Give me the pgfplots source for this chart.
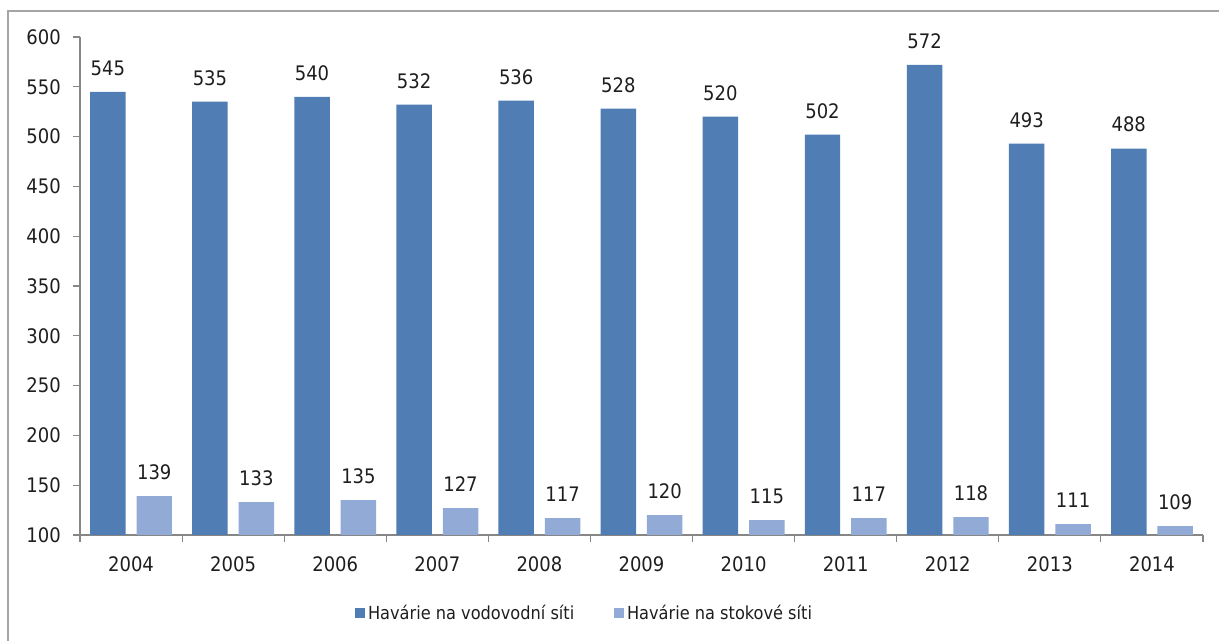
\documentclass[border=0pt]{standalone}
\usepackage{pgfplots}
\pgfplotsset{compat=1.18}
\usepackage{fontspec}
\setmainfont{DejaVu Sans Condensed}
\definecolor{cdark}{RGB}{79,125,180}
\definecolor{clight}{RGB}{145,170,214}
\definecolor{axgray}{RGB}{134,134,134}
\definecolor{txt}{RGB}{30,30,30}
\begin{document}
\begin{tikzpicture}[x=0.75pt,y=0.75pt]
\useasboundingbox (0,0) rectangle (1219,641);
\draw[color={rgb,255:red,165;green,165;blue,165}, line width=1.1pt] (8,0) -- (8,630) -- (1219,630);
\begin{axis}[
  at={(60pt,79.5pt)}, anchor=south west,
  scale only axis, width=842.25pt, height=373.5pt,
  xmin=-0.5, xmax=10.5, ymin=100, ymax=600,
  axis x line*=bottom, axis y line*=left,
  axis line style={axgray, line width=0.8pt, -},
  ytick={100,150,...,600},
  xtick={0,...,10},
  xticklabels={2004,2005,2006,2007,2008,2009,2010,2011,2012,2013,2014},
  minor xtick={-0.5,0.5,...,10.5},
  major x tick style={draw=none},
  minor x tick style={axgray, line width=0.8pt},
  major y tick style={axgray, line width=0.8pt},
  tick align=outside,
  major tick length=5.25pt, minor tick length=5.25pt,
  tick label style={font=\fontsize{15}{18}\selectfont, text=txt},
  xticklabel style={inner sep=0pt, yshift=-10.5pt},
  yticklabel style={inner sep=0pt, xshift=-9pt},
  /pgf/number format/assume math mode=true,
  ybar, bar width=26.6pt,
  nodes near coords,
  every node near coord/.append style={font=\fontsize{15}{18}\selectfont, text=txt, inner sep=0pt, anchor=south, yshift=12pt},
  legend style={at={(0.4497,-0.1566)}, anchor=center, draw=none, fill=none,
    legend columns=2, font=\fontsize{13.5}{16}\selectfont, text=txt,
    /tikz/every even column/.append style={column sep=28pt}},
  legend image code/.code={\fill[#1] (0pt,-3.75pt) rectangle (7.5pt,3.75pt);},
]
\addplot[fill=cdark, draw=none, bar shift=-17.4pt] coordinates {
(0,545) (1,535) (2,540) (3,532) (4,536) (5,528) (6,520) (7,502) (8,572) (9,493) (10,488)};
\addplot[fill=clight, draw=none, bar shift=17.4pt] coordinates {
(0,139) (1,133) (2,135) (3,127) (4,117) (5,120) (6,115) (7,117) (8,118) (9,111) (10,109)};
\legend{Havárie na vodovodní síti, Havárie na stokové síti}
\end{axis}
\end{tikzpicture}
\end{document}
